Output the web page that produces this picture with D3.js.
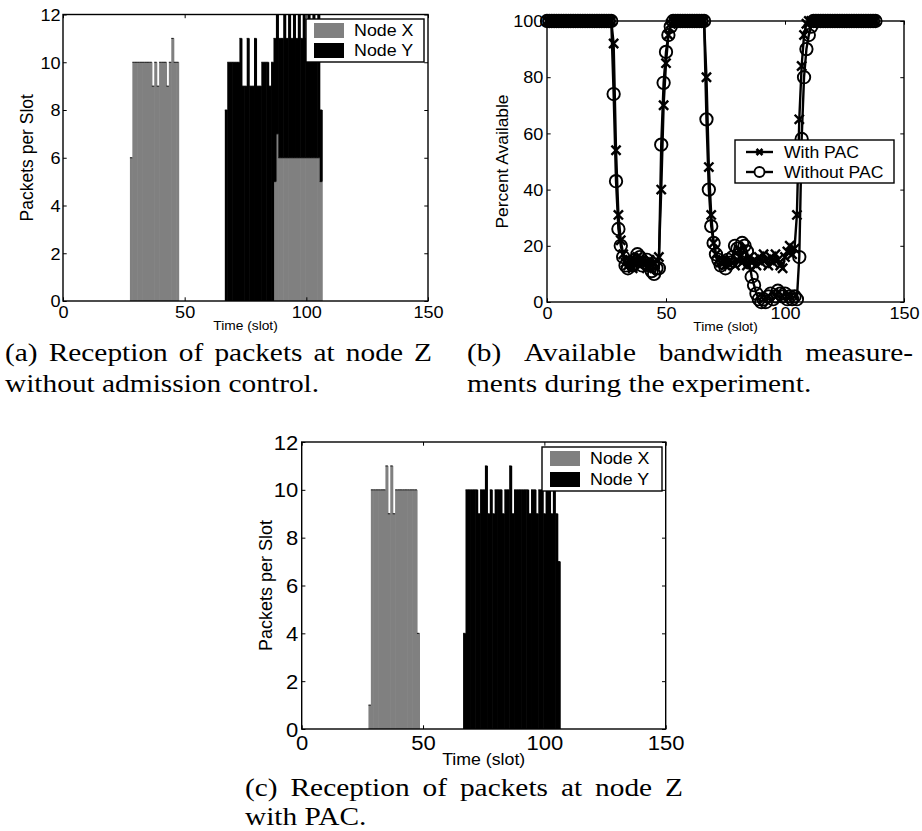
<!DOCTYPE html>
<html>
<head>
<meta charset="utf-8">
<script src="https://cdn.jsdelivr.net/npm/d3@7"></script>
<style>
  body { margin: 0; background: #fff; }
  svg { display: block; }
  text { font-family: "Liberation Sans", Arial, Helvetica, sans-serif; fill: #000; }
  .cap text { font-family: "Liberation Serif", "Times New Roman", Times, serif; }
</style>
</head>
<body>
<svg id="fig" width="922" height="831"></svg>
<script>
// ---------------- data ----------------
// (a) packets per slot at node Z, no admission control; slots 28..106
const slotStartA = 28;
const nodeXA = [
  6,10,10,10,10,10,10,10,10,9,10,9,10,10,10,9,10,11,10,10,
  0,0,0,0,0,0,0,0,0,0,0,0,0,0,0,0,0,0,0,0,0,0,0,0,0,0,0,0,0,0,0,0,0,0,0,0,0,0,0,
  5,7,6,6,6,6,6,6,6,6,6,6,6,6,6,6,6,6,6,5
];
const nodeYA = [
  0,0,0,0,0,0,0,0,0,0,0,0,0,0,0,0,0,0,0,0,0,0,0,0,0,0,0,0,0,0,0,0,0,0,0,0,0,0,0,
  8,10,10,10,10,10,11,9,9,11,9,9,11,9,9,10,10,10,9,10,
  6,5,5,5,6,5,6,5,6,5,6,5,6,5,6,5,6,5,6,3
];

// (c) packets per slot at node Z with PAC
const slotStartXC = 28;
const nodeXC = [1,10,10,10,10,10,10,11,9,11,9,10,10,10,10,10,10,10,10,10,4];
const slotStartYC = 67;
const nodeYC = [
  4,10,10,10,10,10,
  9,10,10,11,9,10,9,10,10,10,
  9,10,10,11,9,10,10,10,10,10,
  10,9,10,10,9,10,10,9,10,10,
  9,10,9,7
];

// (b) percent of bandwidth available, one sample per slot from slot 0 to 138
const withPAC = [
  100,100,100,100,100,100,100,100,100,100,100,100,100,100,100,100,100,100,100,100,100,100,100,100,100,100,100,100,
  92,54,31,22,17,14,13,15,12,14,16,13,15,14,12,15,13,14,15,16,
  40,70,85,95,99,
  100,100,100,100,100,100,100,100,100,100,100,100,100,100,
  80,48,31,21,17,15,14,15,13,14,15,14,13,15,16,14,15,13,16,14,15,13,16,14,17,15,13,16,14,17,15,13,12,16,18,20,17,19,
  31,65,84,95,99,
  100,100,100,100,100,100,100,100,100,100,100,100,100,100,100,100,100,100,100,100,100,100,100,100,100,100,100,100,100
];
const withoutPAC = [
  100,100,100,100,100,100,100,100,100,100,100,100,100,100,100,100,100,100,100,100,100,100,100,100,100,100,100,100,
  74,43,26,20,16,13,12,14,13,15,17,16,13,14,15,13,11,10,12,12,
  56,78,89,95,98,
  100,100,100,100,100,100,100,100,100,100,100,100,100,100,
  65,40,27,21,17,15,13,14,12,15,14,16,20,19,17,21,20,18,14,9,6,3,1,0,1,0,2,3,1,2,4,3,2,3,1,2,1,2,1,
  16,58,80,90,95,98,
  100,100,100,100,100,100,100,100,100,100,100,100,100,100,100,100,100,100,100,100,100,100,100,100,100,100,100
];

const xTickValues = [0, 50, 100, 150];
const packetTicks = [0, 2, 4, 6, 8, 10, 12];
const percentTicks = [0, 20, 40, 60, 80, 100];
const seriesNamesBars = ["Node X", "Node Y"];
const seriesNamesLines = ["With PAC", "Without PAC"];

// ---------------- drawing ----------------
const SX = 1.13;          // glyphs are set slightly wide
const GRAY = "#808080";
const svg = d3.select("#fig");

function label(parent, x, y, str, size, anchor) {
  return parent.append("text")
    .attr("transform", `translate(${x},${y}) scale(${SX},1)`)
    .attr("text-anchor", anchor)
    .style("font-size", size + "px")
    .text(str);
}

function frame(g, x, y, yTicks, o) {
  const T = 3.7;
  const [yb, yt] = y.range();
  const [xl, xr] = x.range();
  const clean = sel => sel.attr("font-size", null).attr("font-family", null);

  const bottom = g.append("g").attr("transform", `translate(0,${yb})`)
    .call(d3.axisBottom(x).tickValues(xTickValues).tickSize(-T).tickSizeOuter(0));
  clean(bottom);
  bottom.selectAll(".tick text")
    .attr("y", null).attr("dy", null)
    .attr("transform", `translate(0,${o.xBase - yb}) scale(${SX},1)`)
    .style("font-size", o.fs + "px");

  const top = g.append("g").attr("transform", `translate(0,${yt})`)
    .call(d3.axisTop(x).tickValues(xTickValues).tickSize(-T).tickSizeOuter(0).tickFormat(() => ""));
  clean(top);

  const left = g.append("g").attr("transform", `translate(${xl},0)`)
    .call(d3.axisLeft(y).tickValues(yTicks).tickSize(-T).tickSizeOuter(0));
  clean(left);
  left.selectAll(".tick text")
    .attr("x", null).attr("dy", "0.36em")
    .attr("transform", `translate(${-o.yGap},0) scale(${SX},1)`)
    .style("font-size", o.fs + "px");

  const right = g.append("g").attr("transform", `translate(${xr},0)`)
    .call(d3.axisRight(y).tickValues(yTicks).tickSize(-T).tickSizeOuter(0).tickFormat(() => ""));
  clean(right);

  g.selectAll(".domain").remove();
  g.selectAll(".tick line").attr("stroke-width", 1);

  g.append("rect")
    .attr("x", xl).attr("y", yt).attr("width", xr - xl).attr("height", yb - yt)
    .attr("fill", "none").attr("stroke", "#000").attr("stroke-width", 1.4);

  label(g, (xl + xr) / 2, o.xLabelBase, "Time (slot)", o.xLabelFs, "middle");
  g.append("text")
    .attr("transform", `translate(${o.yLabelX},${(yt + yb) / 2}) rotate(-90)`)
    .attr("text-anchor", "middle")
    .style("font-size", o.yLabelFs + "px")
    .text(o.yLabel);
}

// bar series: rows of {slot, lo, hi}; each bar fills its whole slot
// (a hair of overlap keeps neighbouring bars from showing seams)
function bars(g, x, y, rows, color) {
  const shown = rows.filter(r => r.hi > r.lo);
  g.append("g").selectAll("rect").data(shown).join("rect")
    .attr("x", r => x(r.slot - 0.5))
    .attr("width", r => x(r.slot + 0.5) - x(r.slot - 0.5) + 0.6)
    .attr("y", r => y(r.hi))
    .attr("height", r => y(r.lo) - y(r.hi))
    .attr("fill", color);
  g.append("g").selectAll("line").data(shown).join("line")
    .attr("x1", r => x(r.slot - 0.5)).attr("x2", r => x(r.slot + 0.5))
    .attr("y1", r => y(r.hi)).attr("y2", r => y(r.hi))
    .attr("stroke", "#000").attr("stroke-width", 0.9);
}

function barLegend(g, box, fs) {
  g.append("rect").attr("x", box.x).attr("y", box.y).attr("width", box.w).attr("height", box.h)
    .attr("fill", "#fff").attr("stroke", "#000").attr("stroke-width", 1.4);
  const colors = [GRAY, "#000"];
  seriesNamesBars.forEach((name, i) => {
    const cy = box.y + box.rowY[i];
    g.append("rect").attr("x", box.x + 8).attr("y", cy - 7.5).attr("width", 30).attr("height", 15)
      .attr("fill", colors[i]);
    label(g, box.x + 48, cy + 5.8, name, fs, "start");
  });
}

// ---- panel (a)
{
  const g = svg.append("g");
  const x = d3.scaleLinear().domain([0, 150]).range([63, 428]);
  const y = d3.scaleLinear().domain([0, 12]).range([301, 14.5]);
  const table = nodeXA.map((v, i) => ({ slot: slotStartA + i, X: v, Y: nodeYA[i] }));
  const stacked = d3.stack().keys(["X", "Y"])(table);
  const rowsOf = layer => layer.map(d => ({ slot: d.data.slot, lo: d[0], hi: d[1] }));
  bars(g, x, y, rowsOf(stacked[0]), GRAY);
  bars(g, x, y, rowsOf(stacked[1]), "#000");
  frame(g, x, y, packetTicks, {
    fs: 16, xBase: 318, yGap: 2.5, xLabelBase: 330, xLabelFs: 12.2,
    yLabelX: 33, yLabelFs: 17.5, yLabel: "Packets per Slot"
  });
  barLegend(g, { x: 306, y: 19, w: 118, h: 43, rowY: [11.5, 31.5] }, 15.8);
}

// ---- panel (c)
{
  const g = svg.append("g");
  const x = d3.scaleLinear().domain([0, 150]).range([301.7, 665.7]);
  const y = d3.scaleLinear().domain([0, 12]).range([729, 442]);
  bars(g, x, y, nodeXC.map((v, i) => ({ slot: slotStartXC + i, lo: 0, hi: v })), GRAY);
  bars(g, x, y, nodeYC.map((v, i) => ({ slot: slotStartYC + i, lo: 0, hi: v })), "#000");
  frame(g, x, y, packetTicks, {
    fs: 19.5, xBase: 749.5, yGap: 3.4, xLabelBase: 764.5, xLabelFs: 15.7,
    yLabelX: 272, yLabelFs: 18, yLabel: "Packets per Slot"
  });
  barLegend(g, { x: 542, y: 447, w: 120, h: 44, rowY: [11.5, 32.5] }, 15.8);
}

// ---- panel (b)
{
  const g = svg.append("g");
  const x = d3.scaleLinear().domain([0, 150]).range([547, 904]);
  const y = d3.scaleLinear().domain([0, 100]).range([302, 21]);
  frame(g, x, y, percentTicks, {
    fs: 16, xBase: 319, yGap: 3.7, xLabelBase: 331, xLabelFs: 12.2,
    yLabelX: 508, yLabelFs: 17.4, yLabel: "Percent Available"
  });
  const line = d3.line().x((d, i) => x(i)).y(d => y(d));
  const cross = "M-4.6,-4.6L4.6,4.6M-4.6,4.6L4.6,-4.6";

  const s1 = g.append("g");
  s1.append("path").attr("d", line(withPAC)).attr("fill", "none").attr("stroke", "#000").attr("stroke-width", 2.4);
  s1.selectAll("path.m").data(withPAC).join("path").attr("class", "m")
    .attr("transform", (d, i) => `translate(${x(i)},${y(d)})`)
    .attr("d", cross).attr("stroke", "#000").attr("stroke-width", 2.4).attr("fill", "none");

  const s2 = g.append("g");
  s2.append("path").attr("d", line(withoutPAC)).attr("fill", "none").attr("stroke", "#000").attr("stroke-width", 2.4);
  s2.selectAll("circle").data(withoutPAC).join("circle")
    .attr("cx", (d, i) => x(i)).attr("cy", d => y(d)).attr("r", 6.2)
    .attr("fill", "none").attr("stroke", "#000").attr("stroke-width", 1.9);

  // legend
  const L = { x: 735, y: 140, w: 159, h: 43 };
  g.append("rect").attr("x", L.x).attr("y", L.y).attr("width", L.w).attr("height", L.h)
    .attr("fill", "#fff").attr("stroke", "#000").attr("stroke-width", 1.4);
  const rows = [152, 172];
  seriesNamesLines.forEach((name, i) => {
    const cy = rows[i];
    g.append("line").attr("x1", 746).attr("x2", 773).attr("y1", cy).attr("y2", cy)
      .attr("stroke", "#000").attr("stroke-width", 2.4);
    if (i === 0) {
      g.append("path").attr("transform", `translate(759.5,${cy})`).attr("d", "M-3,-3L3,3M-3,3L3,-3")
        .attr("stroke", "#000").attr("stroke-width", 2.6);
    } else {
      g.append("circle").attr("cx", 759.5).attr("cy", cy).attr("r", 5)
        .attr("fill", "#fff").attr("stroke", "#000").attr("stroke-width", 1.9);
    }
    label(g, 784, cy + 5.7, name, 15.6, "start");
  });
}

// ---------------- captions ----------------
const CAP_FS = 26;
function caption(x0, x1, base, str, justify) {
  const words = str.split(" ");
  const g = svg.append("g").attr("class", "cap")
    .attr("transform", `translate(${x0},${base}) scale(${SX},1)`);
  const nodes = words.map(w => g.append("text").style("font-size", CAP_FS + "px").text(w));
  const widths = nodes.map(n => n.node().getComputedTextLength());
  const gap = justify ? ((x1 - x0) / SX - d3.sum(widths)) / (words.length - 1) : CAP_FS * 0.25;
  let cx = 0;
  nodes.forEach((n, i) => { n.attr("x", cx); cx += widths[i] + gap; });
}
caption(5, 432, 361, "(a) Reception of packets at node Z", true);
caption(5, 432, 392, "without admission control.", false);
caption(467, 913, 361, "(b) Available bandwidth measure-", true);
caption(467, 913, 392, "ments during the experiment.", false);
caption(245, 683, 796, "(c) Reception of packets at node Z", true);
caption(245, 683, 825, "with PAC.", false);
</script>
</body>
</html>
